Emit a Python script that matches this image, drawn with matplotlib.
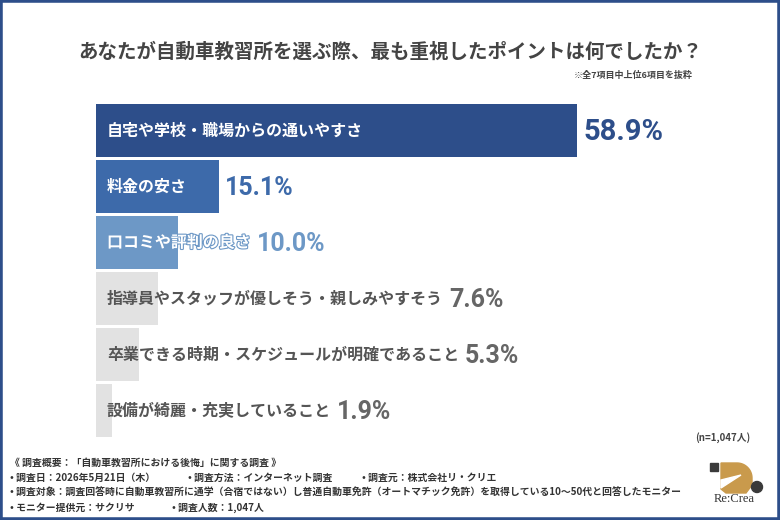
import matplotlib
matplotlib.use('Agg')
import matplotlib.pyplot as plt
import matplotlib.patheffects as pe
from matplotlib.patches import Rectangle, Polygon, Circle
import numpy as np

plt.rcParams['font.family'] = ['Noto Sans CJK JP', 'DejaVu Sans']

title = 'あなたが自動車教習所を選ぶ際、最も重視したポイントは何でしたか？'
note = '※全7項目中上位6項目を抜粋'
categories = ['自宅や学校・職場からの通いやすさ', '料金の安さ', '口コミや評判の良さ',
              '指導員やスタッフが優しそう・親しみやすそう',
              '卒業できる時期・スケジュールが明確であること', '設備が綺麗・充実していること']
values = [58.9, 15.1, 10.0, 7.6, 5.3, 1.9]
sample = '(n=1,047人)'
footer = [
    ['《 調査概要：「自動車教習所における後悔」に関する調査 》'],
    ['• 調査日：2026年5月21日（木）', '• 調査方法：インターネット調査', '• 調査元：株式会社リ・クリエ'],
    ['• 調査対象：調査回答時に自動車教習所に通学（合宿ではない）し普通自動車免許（オートマチック免許）を取得している10〜50代と回答したモニター'],
    ['• モニター提供元：サクリサ', '• 調査人数：1,047人'],
]
footer_x = [[10], [10, 188, 362], [10], [10, 172]]

bar_colors = ['#2d4e8a', '#3d6aaa', '#6d98c6', '#e2e2e2', '#e2e2e2', '#e2e2e2']
label_colors = ['white', 'white', 'white', '#555555', '#555555', '#555555']
value_colors = ['#2d4e8a', '#3d6aaa', '#6d98c6', '#666666', '#666666', '#666666']

W, H = 780, 520
fig = plt.figure(figsize=(W / 100, H / 100), dpi=100)

# frame
fig.patches.append(Rectangle((0, 0), 1, 1, transform=fig.transFigure, fill=False,
                             edgecolor='#2d4e8a', linewidth=4, zorder=10))

fig.text(390 / W, 1 - 52 / H, title, ha='center', va='center', fontsize=14,
         fontweight='bold', color='#444444')
fig.text(693 / W, 1 - 75 / H, note, ha='right', va='center', fontsize=6.5,
         fontweight='bold', color='#444444')

# bars
px_per_unit = 8.17
ax_w = 600
ax = fig.add_axes([96 / W, 1 - 438.5 / H, ax_w / W, 336 / H])
ax.set_xlim(0, ax_w / px_per_unit)
ax.set_ylim(5.5, -0.5)
ax.axis('off')
y = np.arange(len(values))
ax.barh(y, values, height=53 / 56, color=bar_colors, zorder=1)

labels = []
for i, (cat, v) in enumerate(zip(categories, values)):
    t = ax.annotate(cat, xy=(0, i), xytext=(11, 0), textcoords='offset pixels',
                    ha='left', va='center', fontsize=11.5, fontweight='bold',
                    color=label_colors[i], zorder=3)
    if i == 2:
        t.set_path_effects([pe.withStroke(linewidth=1.6, foreground='#6d98c6')])
    labels.append(t)

fig.canvas.draw()
renderer = fig.canvas.get_renderer()
num_font = ['Roboto', 'DejaVu Sans']
for i, v in enumerate(values):
    bb = labels[i].get_window_extent(renderer)
    bar_end = ax.transData.transform((v, i))[0]
    x_disp = max(bb.x1, bar_end) + 6
    x_data = ax.transData.inverted().transform((x_disp, 0))[0]
    size = 21 if i == 0 else 18
    ax.text(x_data, i + 0.02, f'{v:.1f}%', ha='left', va='center', fontsize=size,
            fontweight='bold', color=value_colors[i], family=num_font, zorder=3)

fig.text(750 / W, 1 - 438 / H, sample, ha='right', va='center', fontsize=7,
         fontweight='bold', color='#444444')

# footer
for row, (texts, xs) in enumerate(zip(footer, footer_x)):
    for t, x in zip(texts, xs):
        fig.text(x / W, 1 - (463 + row * 15) / H, t, ha='left', va='center',
                 fontsize=7.1, fontweight='bold', color='#333333')

# logo
lax = fig.add_axes([0, 0, 1, 1], zorder=5)
lax.set_xlim(0, W)
lax.set_ylim(H, 0)
lax.axis('off')
gold = '#c99a4c'
lax.add_patch(Rectangle((710, 463), 8, 8, color='#3a3a3a'))
theta = np.linspace(-np.pi / 2, 0, 20)
arc = [(737 + 15 * np.cos(a), 478 + 15 * np.sin(a)) for a in theta]
pts = [(721, 463)] + arc + [(752, 485), (746, 493), (726, 493), (721, 489)]
lax.add_patch(Polygon(pts, closed=True, color=gold))
lax.add_patch(Polygon([(741, 475), (721, 480), (721, 488)], closed=True, color='white'))
lax.add_patch(Circle((757, 487), 5.5, color='#3a3a3a'))
lax.text(734, 499, 'Re:Crea', ha='center', va='center', fontsize=9,
         family=['Liberation Serif', 'DejaVu Serif'], color='#333333')

fig.savefig('out.png', dpi=100, facecolor='white')
